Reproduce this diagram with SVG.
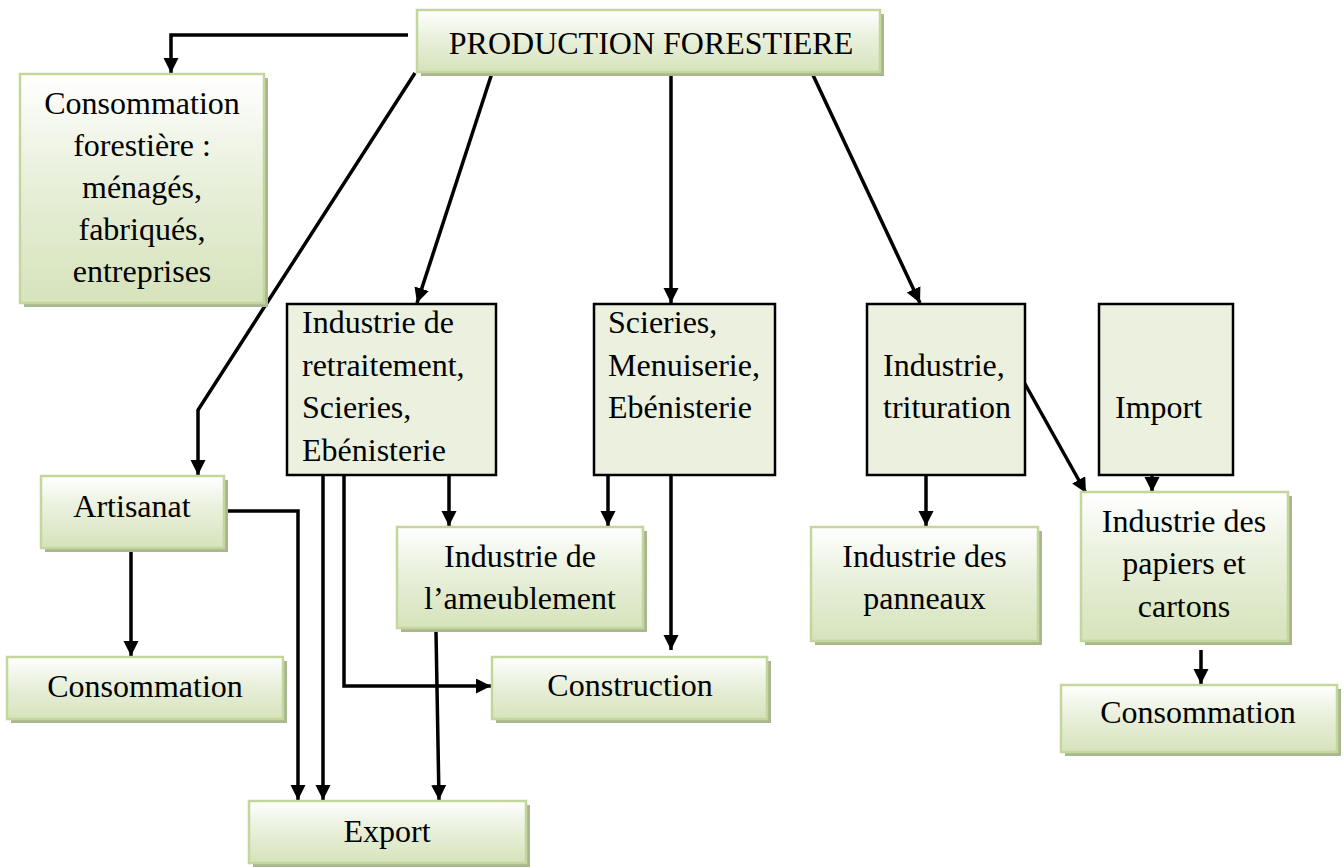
<svg xmlns="http://www.w3.org/2000/svg" width="1344" height="867" viewBox="0 0 1344 867">
<defs>
<linearGradient id="g" x1="0" y1="0" x2="0" y2="1">
<stop offset="0" stop-color="#ffffff"/>
<stop offset="0.45" stop-color="#e9f0dc"/>
<stop offset="1" stop-color="#d6e3bb"/>
</linearGradient>
<marker id="ah" markerUnits="userSpaceOnUse" markerWidth="18" markerHeight="18" refX="15" refY="7.5" orient="auto">
<path d="M0,0 L15,7.5 L0,15 z" fill="#000"/>
</marker>
<style>
.gb{fill:url(#g);stroke:#c3d69b;stroke-width:2.5}
.sh{fill:#a9b791}
.pb{fill:#ebf1de;stroke:#000;stroke-width:2.5}
text{font-family:"Liberation Serif","Times New Roman",serif;font-size:32px;fill:#000}
.c{text-anchor:middle}
.ln{fill:none;stroke:#000;stroke-width:3.5;marker-end:url(#ah)}
</style>
</defs>
<rect width="1344" height="867" fill="#fff"/>

<g id="connectors">
<path class="ln" d="M408,35 H171 V73"/>
<path class="ln" d="M415,73 L198,410 V475"/>
<path class="ln" d="M492,73 L417,303"/>
<path class="ln" d="M671,73 V303"/>
<path class="ln" d="M812,73 L920,303"/>
<path class="ln" d="M449,475 V526"/>
<path class="ln" d="M323,475 V800"/>
<path class="ln" d="M344,475 V686 H491"/>
<path class="ln" d="M608,475 V526"/>
<path class="ln" d="M671,475 V650"/>
<path class="ln" d="M131,548 V656"/>
<path class="ln" d="M224,511 H298 V800"/>
<path class="ln" d="M436,632 L439,800"/>
<path class="ln" d="M926,475 V526"/>
<path class="ln" d="M1020,375 L1086,493"/>
<path class="ln" d="M1152,475 V492"/>
<path class="ln" d="M1201,650 V684"/>
</g>

<g id="production">
<rect class="sh" x="421" y="14" width="463" height="62"/>
<rect class="gb" x="417" y="10" width="463" height="62"/>
<text class="c" x="651" y="54">PRODUCTION FORESTIERE</text>
</g>

<g id="consommation-forestiere">
<rect class="sh" x="24" y="78" width="244" height="229"/>
<rect class="gb" x="20" y="74" width="244" height="229"/>
<text class="c" x="142" y="114">Consommation</text>
<text class="c" x="142" y="156">forestière :</text>
<text class="c" x="142" y="198">ménagés,</text>
<text class="c" x="142" y="240">fabriqués,</text>
<text class="c" x="142" y="282">entreprises</text>
</g>

<g id="retraitement">
<rect class="pb" x="287" y="304" width="209" height="171"/>
<text x="302" y="333">Industrie de</text>
<text x="302" y="375.5">retraitement,</text>
<text x="302" y="418">Scieries,</text>
<text x="302" y="460.5">Ebénisterie</text>
</g>

<g id="scieries">
<rect class="pb" x="594" y="304" width="181" height="171"/>
<text x="608" y="333">Scieries,</text>
<text x="608" y="375.5">Menuiserie,</text>
<text x="608" y="418">Ebénisterie</text>
</g>

<g id="trituration">
<rect class="pb" x="867" y="304" width="158" height="171"/>
<text x="883" y="375.5">Industrie,</text>
<text x="883" y="418">trituration</text>
</g>

<g id="import">
<rect class="pb" x="1099" y="304" width="134" height="171"/>
<text x="1115" y="418">Import</text>
</g>

<g id="artisanat">
<rect class="sh" x="45" y="480" width="183" height="72"/>
<rect class="gb" x="41" y="476" width="183" height="72"/>
<text class="c" x="132" y="517">Artisanat</text>
</g>

<g id="ameublement">
<rect class="sh" x="401" y="531" width="246" height="101"/>
<rect class="gb" x="397" y="527" width="246" height="101"/>
<text class="c" x="520" y="567">Industrie de</text>
<text class="c" x="520" y="609">l’ameublement</text>
</g>

<g id="panneaux">
<rect class="sh" x="815" y="531" width="227" height="114"/>
<rect class="gb" x="811" y="527" width="227" height="114"/>
<text class="c" x="924.5" y="567">Industrie des</text>
<text class="c" x="924.5" y="609">panneaux</text>
</g>

<g id="papiers">
<rect class="sh" x="1085" y="496" width="207" height="149"/>
<rect class="gb" x="1081" y="492" width="207" height="149"/>
<text class="c" x="1184" y="532">Industrie des</text>
<text class="c" x="1184" y="574">papiers et</text>
<text class="c" x="1184" y="617">cartons</text>
</g>

<g id="consommation-gauche">
<rect class="sh" x="11" y="661" width="276" height="62"/>
<rect class="gb" x="7" y="657" width="276" height="62"/>
<text class="c" x="145" y="697">Consommation</text>
</g>

<g id="construction">
<rect class="sh" x="496" y="661" width="275" height="62"/>
<rect class="gb" x="492" y="657" width="275" height="62"/>
<text class="c" x="630" y="696">Construction</text>
</g>

<g id="consommation-droite">
<rect class="sh" x="1065" y="689" width="276" height="67"/>
<rect class="gb" x="1061" y="685" width="276" height="67"/>
<text class="c" x="1198" y="723">Consommation</text>
</g>

<g id="export">
<rect class="sh" x="253" y="805" width="277" height="62"/>
<rect class="gb" x="249" y="801" width="277" height="62"/>
<text class="c" x="387" y="842">Export</text>
</g>
</svg>
